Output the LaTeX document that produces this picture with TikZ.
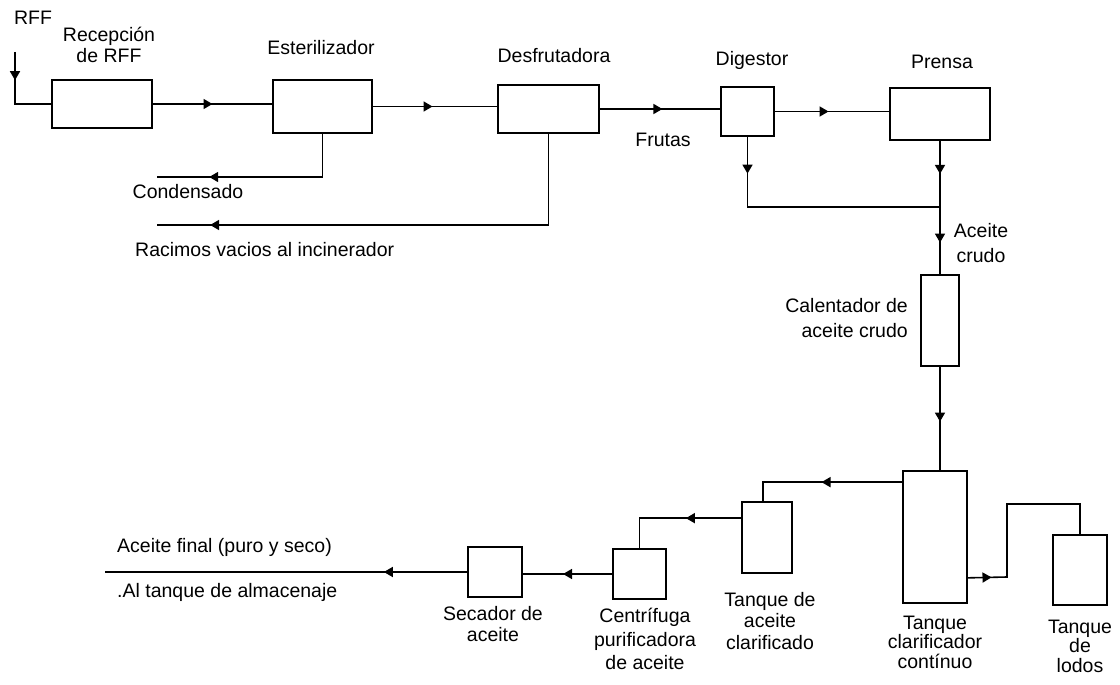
\documentclass[tikz,border=0pt]{standalone}
\usepackage{fontspec}
\setmainfont{Liberation Sans}
\usetikzlibrary{arrows.meta,decorations.markings,calc}
\tikzset{
  box/.style={draw,line width=1.7pt,inner sep=0pt},
  lbl/.style={inner sep=0pt,align=center,font=\fontsize{19.5}{21.5}\selectfont},
  conn/.style={line width=1.6pt},
  flowat/.style={conn,postaction={decorate},
    decoration={markings,mark=at position #1 with {\arrow{Triangle[length=9pt,width=10pt]}}}},
}
\begin{document}
\begin{tikzpicture}[x=1pt,y=-1pt]
\useasboundingbox[fill=white] (0,0) rectangle (1120,685);
% boxes
\node[box,minimum width=100pt,minimum height=48pt] (rec) at (102,104) {};
\node[box,minimum width=99pt,minimum height=53pt] (est) at (322.5,106.5) {};
\node[box,minimum width=101pt,minimum height=48pt] (des) at (548.5,109) {};
\node[box,minimum width=53pt,minimum height=49pt] (dig) at (747.5,111.5) {};
\node[box,minimum width=100pt,minimum height=52pt] (pre) at (940,114) {};
\node[box,minimum width=38pt,minimum height=91pt] (cal) at (940,320.5) {};
\node[box,minimum width=64pt,minimum height=132pt] (cla) at (935,537) {};
\node[box,minimum width=54pt,minimum height=70pt] (lod) at (1080,570) {};
\node[box,minimum width=50pt,minimum height=71pt] (tac) at (767,537.5) {};
\node[box,minimum width=53pt,minimum height=50pt] (cen) at (639.5,574) {};
\node[box,minimum width=54pt,minimum height=50pt] (sec) at (495,572) {};
% labels
\node[lbl] (tRFF) at (33,18) {RFF};
\node[lbl] (tRec) at (109,45) {Recepción\\de RFF};
\node[lbl] (tEst) at (321,48) {Esterilizador};
\node[lbl] (tDes) at (554,56) {Desfrutadora};
\node[lbl] (tDig) at (752,60) {Digestor};
\node[lbl] (tPre) at (942,62) {Prensa};
\node[lbl] (tFru) at (663,140) {Frutas};
\node[lbl] (tCon) at (188,192) {Condensado};
\node[lbl,anchor=west] (tRac) at (135,250) {Racimos vacios al incinerador};
\node[lbl] (tAc) at (981,243) {Aceite\\[3pt]crudo};
\node[lbl,anchor=east,align=right] (tCal) at (908,318) {Calentador de\\[3pt]aceite crudo};
\node[lbl,anchor=west] (tFin) at (117,547) {Aceite final (puro y seco)};
\node[lbl,anchor=west] (tAlm) at (117,592) {.Al tanque de almacenaje};
\node[lbl] (tSec) at (493,624) {Secador de\\aceite};
\node[lbl] (tCen) at (645,639) {Centrífuga\\[2pt]purificadora\\[2pt]de aceite};
\node[lbl] (tTac) at (770,621) {Tanque de\\aceite\\clarificado};
\node[lbl] (tCla) at (935,642) {Tanque\\[-2pt]clarificador\\[-2pt]contínuo};
\node[lbl] (tLod) at (1080,646) {Tanque\\[-2pt]de\\[-2pt]lodos};
% connectors
\coordinate (rffTop) at (15,52);
\draw[flowat=0.32] (rffTop) |- (rec.west);
\draw[flowat=0.5] (rec.east) -- (rec.east -| est.west);
\draw[flowat=0.48] (est.east) -- (est.east -| des.west);
\draw[flowat=0.52] (des.east) -- (des.east -| dig.west);
\draw[flowat=0.47] (dig.east) -- (dig.east -| pre.west);
\coordinate (condEnd) at (157,177);
\draw[flowat=0.75] (est.south) |- (condEnd);
\coordinate (racEnd) at (157,225);
\draw[flowat=0.89] (des.south) |- (racEnd);
\coordinate (jn) at (940,207);
\draw[flowat=0.14] (dig.south) |- (jn);
\draw[flowat=0.5] (pre.south) -- (jn);
\draw[flowat=0.53] (jn) -- (cal.north);
\draw[flowat=0.53] (cal.south) -- (cal.south |- cla.north);
\draw[flowat=0.51] ($(cla.north west)+(0,12)$) -| ($(tac.north)+(-4,0)$);
\draw[flowat=0.42] ($(tac.north west)+(0,17)$) -| (cen.north);
\draw[flowat=0.55] (cen.west) -- (cen.west -| sec.east);
\coordinate (finEnd) at (105,571);
\draw[flowat=0.23] (sec.west) -- (finEnd |- sec.west);
\coordinate (sl1) at (1007,577);
\coordinate (sl2) at (1007,504);
\draw[flowat=0.11] ($(cla.south east)+(0,-26)$) -- (sl1) -- (sl2) -| (lod.north);
\end{tikzpicture}
\end{document}
